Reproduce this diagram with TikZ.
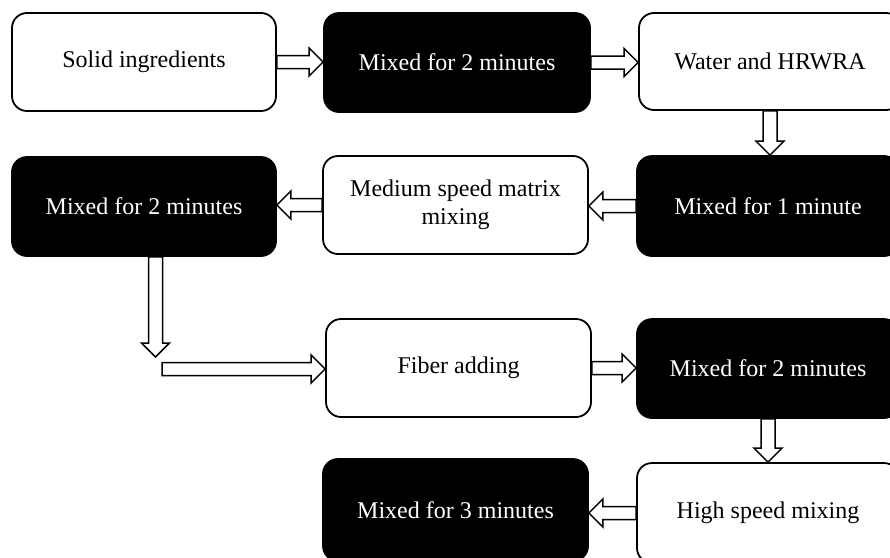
\documentclass[tikz,border=0pt]{standalone}
\usepackage{fontspec}
\setmainfont{Liberation Serif}
\usetikzlibrary{calc}
\tikzset{
  box/.style={rectangle, rounded corners=15pt, draw=black, line width=1.8pt,
    inner sep=0pt, align=center, font=\fontsize{24}{27.6}\selectfont},
  wbox/.style={box, fill=white, text=black},
  bbox/.style={box, fill=black, text=white},
  barrow/.style={draw=black, fill=white, line width=1.5pt, line join=miter}
}
\newcommand{\rarrow}[2]{\draw[barrow] let \p1=(#1), \p2=(#2) in
  (\x1,\y1+6.5pt) -- (\x2-14pt,\y1+6.5pt) -- (\x2-14pt,\y1+14pt) -- (\x2,\y1)
  -- (\x2-14pt,\y1-14pt) -- (\x2-14pt,\y1-6.5pt) -- (\x1,\y1-6.5pt) -- cycle;}
\newcommand{\larrow}[2]{\draw[barrow] let \p1=(#1), \p2=(#2) in
  (\x1,\y1+6.5pt) -- (\x2+14pt,\y1+6.5pt) -- (\x2+14pt,\y1+14pt) -- (\x2,\y1)
  -- (\x2+14pt,\y1-14pt) -- (\x2+14pt,\y1-6.5pt) -- (\x1,\y1-6.5pt) -- cycle;}
\newcommand{\darrow}[2]{\draw[barrow] let \p1=(#1), \p2=(#2) in
  (\x1-7pt,\y1) -- (\x1-7pt,\y2+14pt) -- (\x1-14pt,\y2+14pt) -- (\x1,\y2)
  -- (\x1+14pt,\y2+14pt) -- (\x1+7pt,\y2+14pt) -- (\x1+7pt,\y1) -- cycle;}
\begin{document}
\begin{tikzpicture}[x=1pt,y=-1pt]
\path[use as bounding box, clip] (0,0) rectangle (890,557);
\fill[white] (0,0) rectangle (890,557);
% row 1
\node[wbox, minimum width=264pt, minimum height=98pt] (solid) at (144,62) {Solid ingredients};
\node[bbox, minimum width=266pt, minimum height=99pt] (mixa) at (457,62.5) {Mixed for 2 minutes};
\node[wbox, minimum width=262pt, minimum height=97pt] (water) at (770,61.5) {Water and HRWRA};
% row 2
\node[bbox, minimum width=262pt, minimum height=100pt] (mixone) at (768,206) {Mixed for 1 minute};
\node[wbox, minimum width=265pt, minimum height=98pt] (medium) at (455.5,205) {Medium speed matrix\\mixing};
\node[bbox, minimum width=264pt, minimum height=99pt] (mixb) at (144,206.5) {Mixed for 2 minutes};
% row 3
\node[wbox, minimum width=265pt, minimum height=98pt] (fiber) at (458.5,368) {Fiber adding};
\node[bbox, minimum width=262pt, minimum height=99pt] (mixc) at (768,368.5) {Mixed for 2 minutes};
% row 4
\node[wbox, minimum width=262pt, minimum height=100pt] (high) at (768,513) {High speed mixing};
\node[bbox, minimum width=265pt, minimum height=102pt] (mixthree) at (455.5,510) {Mixed for 3 minutes};
% connectors
\coordinate (dtip) at (155.5,357);
\coordinate (rstart) at (162,369);
\rarrow{solid.east}{mixa.west}
\rarrow{mixa.east}{water.west}
\darrow{water.south}{mixone.north}
\larrow{mixone.west}{medium.east}
\larrow{medium.west}{mixb.east}
\darrow{mixb.south -| dtip}{dtip}
\rarrow{rstart}{rstart -| fiber.west}
\rarrow{fiber.east}{mixc.west}
\darrow{mixc.south}{high.north}
\larrow{high.west}{mixthree.east}
\end{tikzpicture}
\end{document}
